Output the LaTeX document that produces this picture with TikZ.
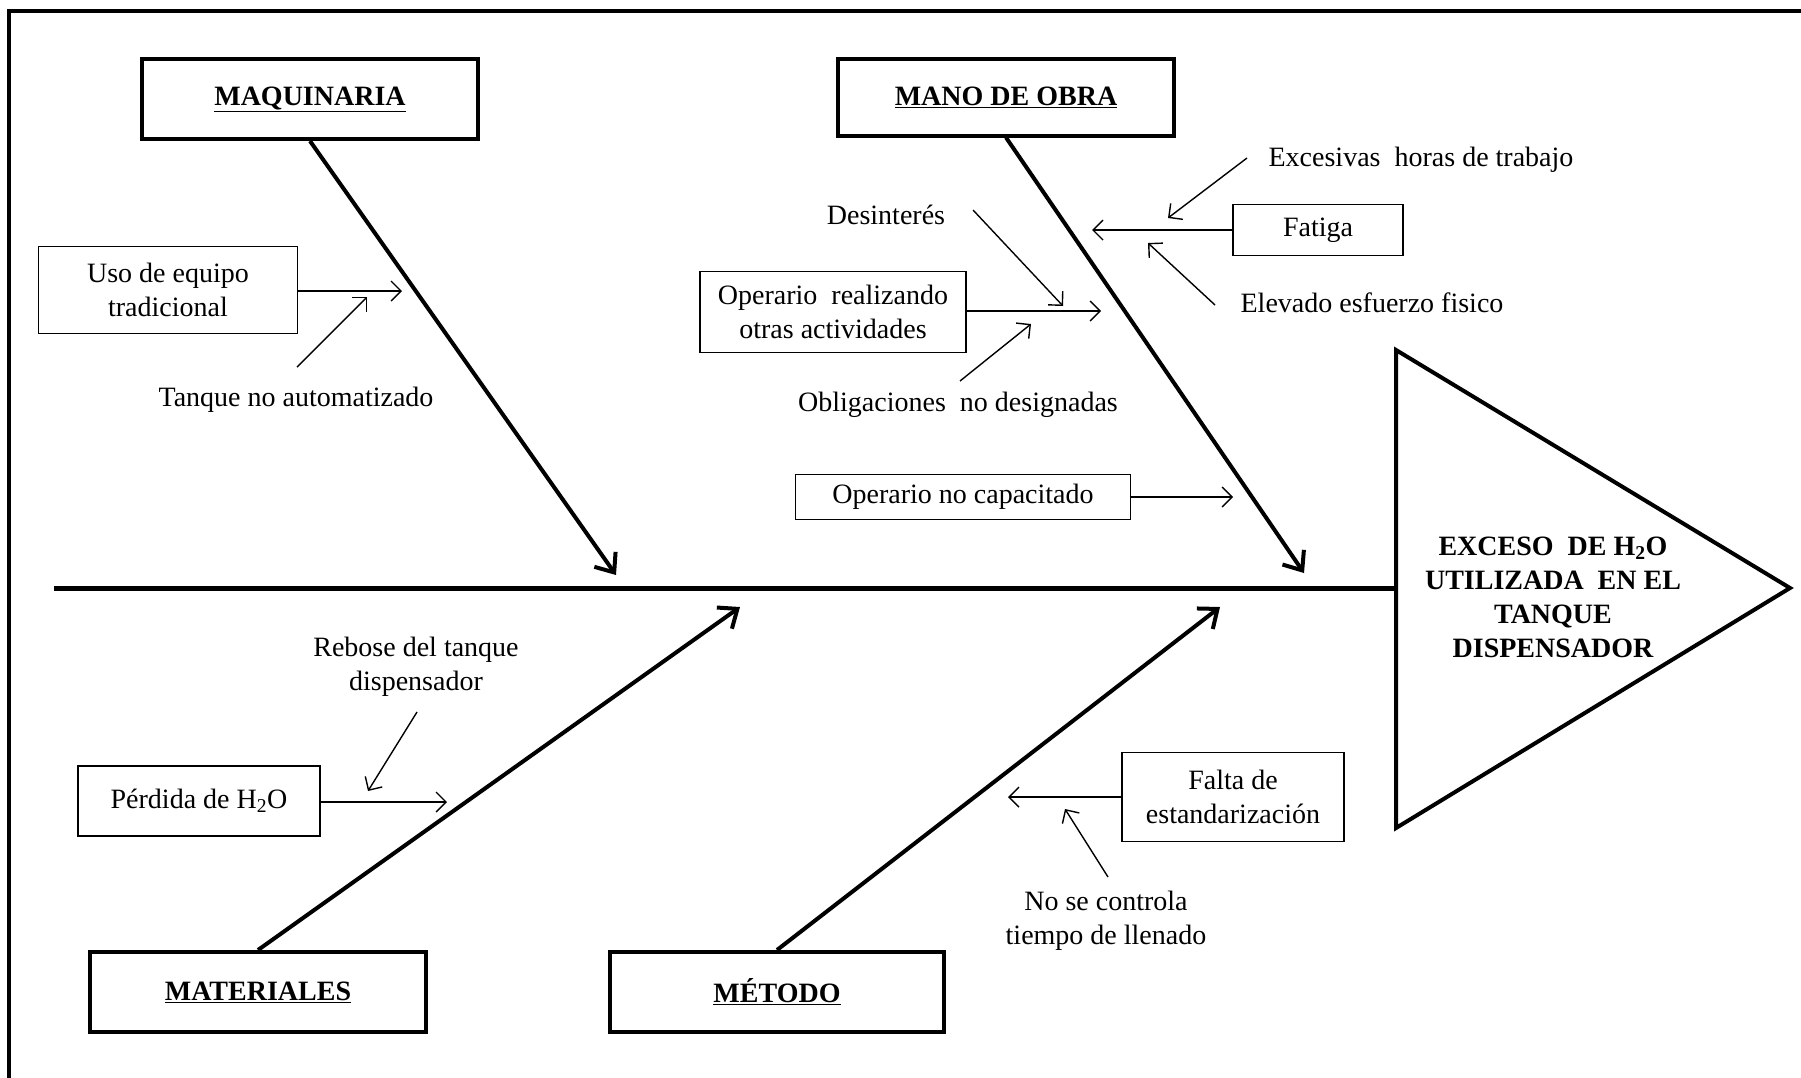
\documentclass[tikz,border=0pt]{standalone}
\usepackage{fontspec}
\setmainfont{Liberation Serif}
\usetikzlibrary{arrows.meta}

\tikzset{
  txt/.style={font=\fontsize{28}{34}\selectfont, align=center, inner sep=0pt},
  headbox/.style={draw, line width=4pt, txt, font=\fontsize{28}{34}\selectfont\bfseries},
  causebox/.style={draw, line width=1.4pt, txt},
  bone/.style={line width=4pt, -{Straight Barb[length=16pt,width=26pt,line width=4pt]}},
  twig/.style={line width=1.4pt, -{Straight Barb[length=10pt,width=20pt,line width=1.4pt]}},
}

\begin{document}
\begin{tikzpicture}[x=1pt, y=-1pt]
  \useasboundingbox (0,0) rectangle (1801,1077);
  \fill[white] (0,0) rectangle (1801,1077);

  % outer frame (open at the right and bottom)
  \draw[line width=4.5pt] (9,1090) -- (9,11) -- (1815,11);

  % effect head
  \draw[line width=4pt, line join=miter] (1396,350) -- (1790,588) -- (1396,828) -- cycle;
  \node[txt, font=\fontsize{28}{34}\selectfont\bfseries] (effect) at (1553,597)
    {EXCESO\ \ DE H\textsubscript{2}O\\UTILIZADA\ \ EN EL\\TANQUE\\DISPENSADOR};

  % spine
  \coordinate (spineL) at (54,588);
  \coordinate (spineR) at (1396,588);
  \draw[line width=5pt] (spineL) -- (spineR);

  % category boxes
  \node[headbox, minimum width=336pt, minimum height=80pt] (maq) at (310,99) {\underline{MAQUINARIA}};
  \node[headbox, minimum width=336pt, minimum height=77pt] (mano) at (1006,97) {\underline{MANO DE OBRA}};
  \node[headbox, minimum width=336pt, minimum height=80pt] (mat) at (258,992) {\underline{MATERIALES}};
  \node[headbox, minimum width=334pt, minimum height=80pt] (met) at (777,992) {\underline{MÉTODO}};

  % main bones
  \coordinate (maqT) at (616,575);
  \coordinate (manoT) at (1304,573);
  \coordinate (matT) at (740,607);
  \coordinate (metT) at (1220,607);
  \draw[bone] (maq.south) -- (maqT);
  \draw[bone] (mano.south) -- (manoT);
  \draw[bone] (mat.north) -- (matT);
  \draw[bone] (met.north) -- (metT);

  % --- Maquinaria causes
  \node[causebox, minimum width=259pt, minimum height=87pt] (uso) at (168,290) {Uso de equipo\\tradicional};
  \coordinate (usoT) at (402,291);
  \draw[twig] (uso.east |- usoT) -- (usoT);
  \node[txt] (tanque) at (296,400) {Tanque no automatizado};
  \coordinate (tanqueS) at (297,367);
  \coordinate (tanqueT) at (367,297);
  \draw[twig] (tanqueS) -- (tanqueT);

  % --- Mano de obra causes
  \node[txt] (desint) at (886,215) {Desinterés};
  \coordinate (desintS) at (973,210);
  \coordinate (desintT) at (1063,306);
  \draw[twig] (desintS) -- (desintT);

  \node[causebox, minimum width=266pt, minimum height=81pt] (oprea) at (833,312) {Operario\ \ realizando\\otras actividades};
  \coordinate (opreaT) at (1101,311);
  \draw[twig] (oprea.east |- opreaT) -- (opreaT);

  \node[txt] (oblig) at (958,405) {Obligaciones\ \ no designadas};
  \coordinate (obligS) at (960,381);
  \coordinate (obligT) at (1031,324);
  \draw[twig] (obligS) -- (obligT);

  \node[causebox, minimum width=335pt, minimum height=45pt] (opnc) at (963,497) {Operario\ no capacitado};
  \coordinate (opncT) at (1233,497);
  \draw[twig] (opnc.east |- opncT) -- (opncT);

  \node[causebox, minimum width=170pt, minimum height=51pt] (fatiga) at (1318,230) {Fatiga};
  \coordinate (fatigaT) at (1092,230);
  \draw[twig] (fatiga.west |- fatigaT) -- (fatigaT);

  \node[txt] (exces) at (1421,160) {Excesivas\ \ horas de trabajo};
  \coordinate (excesS) at (1247,158);
  \coordinate (excesT) at (1168,218);
  \draw[twig] (excesS) -- (excesT);

  \node[txt] (elev) at (1372,303) {Elevado\ esfuerzo fisico};
  \coordinate (elevS) at (1215,305);
  \coordinate (elevT) at (1148,243);
  \draw[twig] (elevS) -- (elevT);

  % --- Materiales causes
  \node[txt] (rebose) at (416,667) {Rebose del tanque\\dispensador};
  \coordinate (reboseS) at (417,712);
  \coordinate (reboseT) at (368,791);
  \draw[twig] (reboseS) -- (reboseT);

  \node[causebox, minimum width=242pt, minimum height=70pt] (perd) at (199,801) {Pérdida de H\textsubscript{2}O};
  \coordinate (perdT) at (447,802);
  \draw[twig] (perd.east |- perdT) -- (perdT);

  % --- Método causes
  \node[causebox, minimum width=222pt, minimum height=89pt] (falta) at (1233,797) {Falta de\\estandarización};
  \coordinate (faltaT) at (1008,797);
  \draw[twig] (falta.west |- faltaT) -- (faltaT);

  \node[txt] (nosec) at (1106,921) {No se controla\\tiempo de llenado};
  \coordinate (nosecS) at (1108,877);
  \coordinate (nosecT) at (1065,809);
  \draw[twig] (nosecS) -- (nosecT);
\end{tikzpicture}
\end{document}
